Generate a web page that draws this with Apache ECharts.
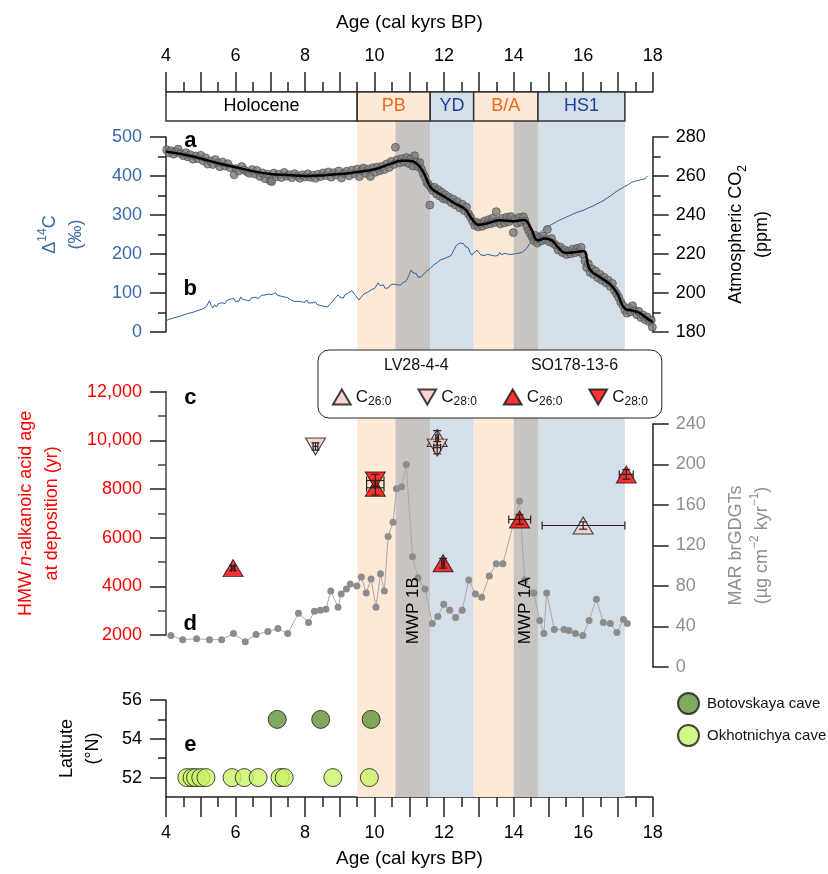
<!DOCTYPE html>
<html><head><meta charset="utf-8">
<script src="https://cdn.jsdelivr.net/npm/echarts@6/dist/echarts.min.js"></script>
<style>html,body{margin:0;padding:0;background:#fff}#c{width:828px;height:874px}</style>
</head><body><div id="c"></div><script>
const FONT = 'Liberation Sans, Arial, Helvetica, sans-serif';

// ---- Age axis ----
const ageMin = 4, ageMax = 18;

// ---- Climate periods (header) and shaded bands ----
const periods = [
  {name:'Holocene', from:4, to:9.5, kind:'hol'},
  {name:'PB', from:9.5, to:11.6, kind:'warm'},
  {name:'YD', from:11.6, to:12.85, kind:'cold'},
  {name:'B/A', from:12.85, to:14.7, kind:'warm'},
  {name:'HS1', from:14.7, to:17.2, kind:'cold'}
];
const bands = [
  {from:9.5, to:10.6, kind:'warm'},
  {from:10.6, to:11.6, kind:'mwp'},
  {from:11.6, to:12.85, kind:'cold'},
  {from:12.85, to:14.0, kind:'warm'},
  {from:14.0, to:14.7, kind:'mwp'},
  {from:14.7, to:17.2, kind:'cold'}
];
const mwpLabels = [{name:'MWP 1B', age:11.1}, {name:'MWP 1A', age:14.35}];

// ---- Panel a: atmospheric CO2 (ppm) ----
const co2Smooth = [[4.0,272.5],[4.5,271],[5.0,269],[5.5,266.5],[6.0,264.5],[6.5,262.5],[7.0,261],[7.5,260.5],[8.0,260],[8.5,260.3],[9.0,261],[9.5,262],[10.0,263.5],[10.5,266.5],[10.8,267.8],[11.0,267.8],[11.2,266.5],[11.4,262],[11.6,254.5],[11.8,251.5],[12.0,249.5],[12.3,246],[12.6,243],[12.8,238],[13.0,235],[13.3,236],[13.6,237.3],[14.0,236.8],[14.3,237.5],[14.5,233],[14.7,227],[14.9,228],[15.1,227],[15.3,223],[15.5,220.5],[15.8,221],[16.0,221.5],[16.2,212],[16.5,208],[16.8,204],[17.0,199],[17.2,192],[17.4,191],[17.6,190],[17.8,187.5],[18.0,185]];
const co2Points = [[4.02,273.5],[4.08,271.8],[4.15,272.9],[4.22,271.2],[4.28,272.6],[4.35,273.8],[4.42,271.5],[4.5,270.4],[4.57,271.9],[4.63,269.8],[4.7,270.9],[4.78,268.6],[4.85,270.2],[4.92,268.9],[5.0,270.6],[5.07,267.8],[5.14,269.3],[5.2,266.1],[5.28,267.7],[5.35,265.9],[5.42,268.4],[5.5,266.7],[5.55,264.8],[5.63,267.2],[5.7,265.1],[5.78,266.3],[5.85,264.2],[5.96,260.6],[6.02,263.8],[6.1,262.6],[6.18,264.9],[6.25,263.1],[6.33,262.2],[6.4,261.4],[6.48,263.3],[6.55,261.0],[6.62,262.8],[6.7,259.8],[6.78,261.6],[6.85,258.6],[6.92,260.9],[7.0,257.5],[7.04,257.1],[7.1,261.5],[7.18,259.6],[7.25,260.9],[7.32,259.2],[7.4,261.8],[7.47,259.9],[7.55,260.7],[7.62,259.1],[7.7,261.2],[7.78,260.0],[7.85,258.9],[7.92,260.6],[8.0,259.5],[8.08,261.1],[8.15,259.3],[8.22,260.4],[8.3,258.8],[8.37,260.9],[8.45,259.7],[8.52,261.6],[8.6,260.2],[8.67,262.1],[8.75,259.4],[8.82,261.7],[8.9,260.5],[8.97,262.6],[9.05,259.0],[9.12,261.4],[9.2,262.5],[9.27,260.1],[9.35,263.0],[9.42,261.2],[9.5,263.6],[9.56,259.7],[9.62,262.8],[9.68,264.1],[9.75,261.3],[9.82,263.5],[9.88,259.8],[9.95,264.2],[10.02,261.9],[10.08,264.6],[10.15,262.7],[10.22,265.0],[10.28,263.3],[10.35,266.2],[10.42,264.4],[10.48,267.5],[10.55,265.9],[10.6,274.7],[10.65,268.3],[10.72,266.7],[10.78,268.9],[10.85,267.2],[10.92,269.5],[10.98,266.4],[11.04,268.8],[11.1,265.1],[11.15,270.4],[11.2,267.3],[11.25,264.8],[11.3,266.9],[11.35,263.5],[11.4,261.2],[11.45,259.4],[11.5,256.8],[11.55,255.6],[11.59,245.1],[11.63,253.9],[11.68,252.5],[11.72,254.2],[11.78,250.8],[11.83,252.9],[11.88,249.6],[11.93,251.7],[11.98,248.3],[12.03,250.4],[12.08,247.9],[12.13,249.2],[12.2,246.4],[12.26,248.1],[12.32,245.2],[12.38,246.9],[12.45,243.7],[12.52,245.5],[12.58,242.3],[12.64,244.1],[12.7,240.6],[12.76,238.9],[12.82,236.8],[12.88,234.6],[12.93,236.3],[12.98,233.9],[13.04,235.7],[13.1,234.2],[13.16,236.9],[13.22,235.1],[13.28,237.6],[13.34,235.5],[13.4,238.4],[13.46,236.2],[13.5,241.7],[13.56,237.1],[13.62,235.4],[13.68,238.3],[13.74,236.0],[13.8,238.9],[13.86,236.5],[13.92,239.2],[13.99,231.0],[14.04,237.9],[14.1,235.8],[14.16,238.7],[14.22,236.4],[14.28,239.1],[14.33,236.9],[14.38,234.2],[14.43,232.1],[14.48,230.4],[14.53,228.8],[14.58,226.9],[14.63,229.5],[14.68,225.6],[14.73,228.2],[14.8,226.7],[14.86,229.1],[14.92,227.4],[14.97,232.6],[15.03,226.2],[15.09,228.0],[15.15,225.3],[15.22,224.4],[15.28,222.1],[15.34,223.6],[15.4,220.8],[15.46,222.2],[15.52,219.7],[15.58,221.4],[15.64,220.1],[15.7,222.5],[15.76,220.6],[15.82,222.9],[15.88,221.2],[15.94,223.4],[15.99,219.9],[16.05,216.5],[16.1,213.1],[16.15,215.0],[16.2,210.6],[16.25,212.4],[16.3,209.5],[16.36,211.3],[16.42,207.8],[16.48,209.6],[16.54,206.5],[16.6,208.1],[16.66,205.2],[16.72,206.6],[16.78,203.4],[16.84,204.9],[16.9,201.3],[16.96,199.6],[17.02,197.8],[17.08,195.4],[17.14,193.7],[17.2,191.2],[17.26,189.6],[17.31,192.4],[17.36,190.3],[17.42,193.5],[17.48,191.0],[17.54,188.9],[17.6,190.6],[17.66,187.4],[17.72,188.8],[17.78,186.3],[17.84,187.7],[17.9,185.2],[17.96,186.1],[17.99,182.5]];

// ---- Panel b: Δ14C (‰) ----
const d14c = [[4.0,26],[4.05,32],[4.1,28],[4.15,34],[4.2,30],[4.25,37],[4.3,33],[4.35,39],[4.4,36],[4.45,42],[4.5,38],[4.55,45],[4.6,41],[4.65,48],[4.7,44],[4.75,50],[4.8,46],[4.85,53],[4.9,49],[4.95,56],[5.0,52],[5.05,59],[5.1,55],[5.15,64],[5.2,60],[5.25,80],[5.3,68],[5.35,62],[5.4,70],[5.45,64],[5.5,72],[5.55,68],[5.6,75],[5.65,70],[5.7,73],[5.75,81],[5.8,76],[5.85,84],[5.9,79],[5.95,86],[6.0,78],[6.05,83],[6.1,80],[6.15,90],[6.2,84],[6.25,88],[6.3,82],[6.35,86],[6.4,80],[6.45,87],[6.5,83],[6.55,89],[6.6,85],[6.65,86],[6.7,88],[6.75,94],[6.8,89],[6.85,95],[6.9,91],[6.95,97],[7.0,92],[7.05,96],[7.1,99],[7.15,101],[7.2,94],[7.25,98],[7.3,92],[7.35,97],[7.4,90],[7.45,95],[7.5,88],[7.55,86],[7.6,82],[7.65,85],[7.7,78],[7.75,83],[7.8,79],[7.85,84],[7.9,77],[7.95,80],[8.0,76],[8.05,82],[8.1,74],[8.15,79],[8.2,75],[8.25,73],[8.3,77],[8.35,70],[8.4,73],[8.45,68],[8.5,72],[8.55,66],[8.6,68],[8.65,64],[8.7,70],[8.75,75],[8.8,79],[8.85,86],[8.9,82],[8.95,95],[9.0,89],[9.05,93],[9.1,87],[9.15,96],[9.2,92],[9.25,100],[9.3,97],[9.35,106],[9.4,100],[9.45,94],[9.5,90],[9.55,82],[9.6,88],[9.65,93],[9.7,98],[9.75,95],[9.8,102],[9.85,100],[9.9,108],[9.95,104],[10.0,112],[10.05,118],[10.1,126],[10.15,119],[10.2,114],[10.25,121],[10.3,112],[10.35,117],[10.4,113],[10.45,120],[10.5,116],[10.55,123],[10.6,119],[10.65,121],[10.7,124],[10.75,120],[10.8,126],[10.85,123],[10.9,130],[10.95,138],[11.0,148],[11.05,159],[11.1,152],[11.15,147],[11.2,150],[11.25,140],[11.3,138],[11.35,142],[11.4,148],[11.45,152],[11.5,156],[11.55,160],[11.6,163],[11.65,168],[11.7,172],[11.75,176],[11.8,178],[11.85,182],[11.9,185],[11.95,186],[12.0,188],[12.05,190],[12.1,192],[12.15,194],[12.2,196],[12.25,205],[12.3,213],[12.35,222],[12.4,217],[12.45,228],[12.5,224],[12.55,227],[12.6,220],[12.65,223],[12.7,215],[12.75,203],[12.8,197],[12.85,203],[12.9,207],[12.95,210],[13.0,204],[13.05,198],[13.1,202],[13.15,196],[13.2,201],[13.25,199],[13.3,203],[13.35,197],[13.4,200],[13.45,195],[13.5,199],[13.55,196],[13.6,204],[13.65,198],[13.7,194],[13.75,202],[13.8,197],[13.85,199],[13.9,196],[13.95,199],[14.0,200],[14.05,201],[14.1,201],[14.15,202],[14.2,203],[14.25,205],[14.3,207],[14.35,212],[14.4,218],[14.45,225],[14.5,231],[14.55,238],[14.6,244],[14.65,248],[14.7,251],[14.75,256],[14.8,258],[14.9,264],[15.0,271],[15.1,276],[15.2,281],[15.3,286],[15.4,290],[15.5,294],[15.6,298],[15.7,302],[15.8,306],[15.9,309],[16.0,312],[16.1,316],[16.2,320],[16.3,324],[16.4,329],[16.5,333],[16.6,338],[16.7,344],[16.8,350],[16.9,357],[17.0,363],[17.1,368],[17.2,373],[17.3,378],[17.4,384],[17.5,387],[17.6,389],[17.7,391],[17.78,393],[17.85,400]];

// ---- Panel c: HMW n-alkanoic acid age at deposition (yr) ----
// [age, value]
const lvC26 = [[16.0,6500],[11.8,10100]];
const lvC28 = [[8.3,9750],[11.8,9700]];
const soC26 = [[5.93,4750],[10.02,8050],[11.97,4950],[14.17,6750],[17.24,8600]];
const soC28 = [[10.02,8350]];
// error bars: [age, value, ageLow, ageHigh, valueLow, valueHigh]
const cErrors = [
  [16.0,6500,14.82,17.2,6350,6650],
  [11.8,10100,11.76,11.84,9800,10400],
  [8.3,9750,8.23,8.37,9600,9900],
  [11.8,9700,11.7,11.9,9450,9950],
  [5.93,4750,5.88,5.98,4650,4850],
  [10.02,8050,9.77,10.27,7750,8350],
  [11.97,4950,11.93,12.01,4750,5150],
  [14.17,6750,13.86,14.49,6550,6950],
  [17.24,8600,17.04,17.44,8400,8800],
  [10.02,8350,9.77,10.27,8100,8600]
];

// ---- Panel d: MAR brGDGTs (µg cm-2 kyr-1) ----
const marGdgt = [[4.14,31],[4.48,27],[4.88,28],[5.25,27],[5.6,27],[5.94,33],[6.28,25],[6.59,32],[6.93,35],[7.22,38],[7.5,33],[7.81,53],[8.1,44],[8.27,55],[8.44,56],[8.6,57],[8.74,75],[8.95,59],[9.04,72],[9.19,77],[9.3,82],[9.49,80],[9.62,89],[9.76,73],[9.9,87],[10.04,59],[10.17,92],[10.28,75],[10.39,129],[10.53,143],[10.63,176],[10.78,178],[10.91,200],[11.09,109],[11.25,88],[11.45,77],[11.66,43],[11.82,50],[11.99,62],[12.16,56],[12.33,49],[12.52,56],[12.71,86],[12.9,72],[13.08,69],[13.3,90],[13.5,102],[13.69,102],[14.17,164],[14.32,86],[14.58,73],[14.75,46],[14.87,33],[14.95,73],[15.17,37],[15.45,37],[15.59,36],[15.78,33],[15.99,31],[16.17,46],[16.38,67],[16.58,44],[16.78,43],[16.97,34],[17.16,47],[17.27,43]];

// ---- Panel e: speleothem latitudes (°N) ----
const botovskaya = [[7.2,55],[8.45,55],[9.9,55]];
const okhotnichya = [[4.6,52],[4.75,52],[4.85,52],[5.0,52],[5.15,52],[5.9,52],[6.25,52],[6.65,52],[7.28,52],[7.4,52],[8.8,52],[9.85,52]];

// ---- tick labels ----
const ageTicks = [4,6,8,10,12,14,16,18];
const latTicks = [52,54,56];
const latMinorTicks = [53,55];

// ---------- styles ----------
const C_WARM = '#fde9d5', C_COLD = '#d5dfea', C_MWP = '#c9c4bf';
const bandColor = k => k==='warm'?C_WARM:(k==='cold'?C_COLD:(k==='mwp'?C_MWP:'#ffffff'));
const periodText = k => k==='warm'?'#f26a1f':(k==='cold'?'#1c3f98':'#000');
const BLUE = '#3a6aa6', RED = '#ff0000', GREY = '#8e8e8e', AX = '#222';

const L = 166, RGT = 828 - 652.7;
const grids = [
  {left:L, right:RGT, top:121, height:676},   // 0 bands
  {left:L, right:RGT, top:92, height:29},     // 1 header
  {left:L, right:RGT, top:137, height:195},   // 2 panels a,b
  {left:L, right:RGT, top:391.7, height:243.3}, // 3 panel c
  {left:L, right:RGT, top:424, height:243},   // 4 panel d
  {left:L, right:RGT, top:700, height:97}     // 5 panel e
];

function hiddenX(g){return {gridIndex:g,type:'value',min:ageMin,max:ageMax,show:false};}
const ageLabelFmt = v => ageTicks.indexOf(v) >= 0 ? String(v) : '';
function ageAxis(g, pos){
  return {gridIndex:g,type:'value',position:pos,min:ageMin,max:ageMax,interval:1,
    axisLine:{show:true,onZero:false,lineStyle:{color:AX,width:1.5}},
    axisTick:{show:true,length:20,lineStyle:{color:AX,width:1.5}},
    minorTick:{show:true,splitNumber:2,length:10,lineStyle:{color:AX,width:1.5}},
    splitLine:{show:false},minorSplitLine:{show:false},
    axisLabel:{fontSize:18,color:'#000',fontFamily:FONT,margin:27,formatter:ageLabelFmt},
    name:'Age (cal kyrs BP)',nameLocation:'middle',nameGap:pos==='top'?60:52,
    nameTextStyle:{fontSize:19,color:'#000',fontFamily:FONT}};
}
function yAx(o){
  const col = o.color || '#000';
  const base = {type:'value',
    axisLine:{show:true,onZero:false,lineStyle:{color:AX,width:1.5}},
    axisTick:{show:true,length:16,lineStyle:{color:AX,width:1.5}},
    splitLine:{show:false},
    axisLabel:{fontSize:18,color:col,fontFamily:FONT,margin:o.margin||24},
    nameLocation:'middle',nameRotate:90,
    nameTextStyle:{fontSize:18,color:col,fontFamily:FONT,lineHeight:26,align:'center',
      rich:{
        sup:{fontSize:12,color:col,fontFamily:FONT,verticalAlign:'top',lineHeight:12},
        sub:{fontSize:12,color:col,fontFamily:FONT,verticalAlign:'bottom',lineHeight:12},
        i:{fontSize:18,color:col,fontFamily:FONT,fontStyle:'italic'}
      }}
  };
  return Object.assign(base, o.extra);
}

const yAxes = [
  {gridIndex:0,type:'value',min:0,max:1,show:false},
  {gridIndex:1,type:'value',min:0,max:1,show:false},
  yAx({color:BLUE, extra:{gridIndex:2,position:'left',min:0,max:500,interval:100,
    minorTick:{show:true,splitNumber:2,length:8,lineStyle:{color:AX,width:1.5}},
    name:'Δ{sup|14}C\n(‰)',nameGap:77}}),
  yAx({color:'#000', margin:23, extra:{gridIndex:2,position:'right',min:180,max:280,interval:20,
    minorTick:{show:true,splitNumber:2,length:8,lineStyle:{color:AX,width:1.5}},
    name:'Atmospheric CO{sub|2}\n(ppm)',nameGap:70}}),
  yAx({color:RED, extra:{gridIndex:3,position:'left',min:2000,max:12000,interval:2000,
    axisLine:{show:true,onZero:false,lineStyle:{color:'#444',width:1.5}},
    minorTick:{show:true,splitNumber:2,length:8,lineStyle:{color:'#444',width:1.5}},
    axisLabel:{fontSize:18,color:RED,fontFamily:FONT,margin:24,
      formatter:v=> v>=10000 ? (Math.floor(v/1000)+','+String(v%1000).padStart(3,'0')) : String(v)},
    name:'HMW {i|n}-alkanoic acid age\nat deposition (yr)',nameGap:101}}),
  yAx({color:GREY, margin:23, extra:{gridIndex:4,position:'right',min:0,max:240,interval:40,
    name:'MAR brGDGTs\n(µg cm{sup|−2} kyr{sup|−1})',nameGap:70}}),
  yAx({color:'#000', extra:{gridIndex:5,position:'left',min:51,max:56,
    axisTick:{show:true,length:16,customValues:latTicks,lineStyle:{color:AX,width:1.5}},
    axisLabel:{fontSize:18,color:'#000',fontFamily:FONT,margin:24,customValues:latTicks},
    name:'Latitute\n(°N)',nameGap:60}}),
  {gridIndex:5,type:'value',position:'left',min:51,max:56,
    axisLine:{show:false},splitLine:{show:false},axisLabel:{show:false},
    axisTick:{show:true,length:8,customValues:latMinorTicks,lineStyle:{color:AX,width:1.5}}}
];

const xAxes = [hiddenX(0), ageAxis(1,'top'), hiddenX(2), hiddenX(3), hiddenX(4), ageAxis(5,'bottom')];

function errRender(params, api){
  const x=api.value(0), y=api.value(1), xl=api.value(2), xh=api.value(3), yl=api.value(4), yh=api.value(5);
  const c=api.coord([x,y]), l=api.coord([xl,y]), r=api.coord([xh,y]), b=api.coord([x,yl]), t=api.coord([x,yh]);
  const cap=4, st={stroke:'#222',lineWidth:1.2};
  return {type:'group',children:[
    {type:'line',shape:{x1:l[0],y1:c[1],x2:r[0],y2:c[1]},style:st},
    {type:'line',shape:{x1:l[0],y1:c[1]-cap,x2:l[0],y2:c[1]+cap},style:st},
    {type:'line',shape:{x1:r[0],y1:c[1]-cap,x2:r[0],y2:c[1]+cap},style:st},
    {type:'line',shape:{x1:c[0],y1:b[1],x2:c[0],y2:t[1]},style:st},
    {type:'line',shape:{x1:c[0]-cap,y1:b[1],x2:c[0]+cap,y2:b[1]},style:st},
    {type:'line',shape:{x1:c[0]-cap,y1:t[1],x2:c[0]+cap,y2:t[1]},style:st}
  ]};
}

const PINK = '#f8c9c6';
function triSeries(name, data, color, down){
  return {type:'scatter',name,xAxisIndex:3,yAxisIndex:4,data,symbol:'triangle',
    symbolSize:[20,17],symbolRotate:down?180:0,z:6,
    itemStyle:{color,borderColor:'#111',borderWidth:1}};
}
const legendNames = {LV26:'C{s|26:0}',LV28:'C{s|28:0}',SO26:'C{s|26:0}',SO28:'C{s|28:0}'};
const UP = 'path://M10,0L20,17L0,17Z', DOWN = 'path://M0,0L20,0L10,17Z';

const series = [
  {type:'line',xAxisIndex:0,yAxisIndex:0,data:[],silent:true,z:1,
    markArea:{silent:true,data:bands.map(b=>[{xAxis:b.from,itemStyle:{color:bandColor(b.kind)}},{xAxis:b.to}])}},
  {type:'line',xAxisIndex:1,yAxisIndex:1,data:[],silent:true,z:2,
    markArea:{silent:true,itemStyle:{borderColor:'#333',borderWidth:1.5},
      label:{show:true,position:'inside',fontSize:18,fontFamily:FONT},
      data:periods.map(p=>[{xAxis:p.from,name:p.name,itemStyle:{color:bandColor(p.kind),borderColor:'#333',borderWidth:1.5},
        label:{color:periodText(p.kind)}},{xAxis:p.to}])}},
  {type:'line',name:'d14c',xAxisIndex:2,yAxisIndex:2,data:d14c,symbol:'none',z:3,
    lineStyle:{color:'#2c5f9f',width:1}},
  {type:'scatter',name:'co2pts',xAxisIndex:2,yAxisIndex:3,data:co2Points,symbolSize:8,z:4,
    itemStyle:{color:'#7b7b7b',borderColor:'#4a4a4a',borderWidth:0.8}},
  {type:'line',name:'co2smooth',xAxisIndex:2,yAxisIndex:3,data:co2Smooth,smooth:0.5,symbol:'none',z:5,
    lineStyle:{color:'#000',width:2.5}},
  {type:'line',name:'mar',xAxisIndex:4,yAxisIndex:5,data:marGdgt,symbol:'circle',symbolSize:7,showAllSymbol:true,z:4,
    lineStyle:{color:'#a8a8a8',width:1},itemStyle:{color:'#8c8c8c',borderWidth:0}},
  triSeries('LV26', lvC26, PINK, false),
  triSeries('LV28', lvC28, PINK, true),
  triSeries('SO26', soC26, RED, false),
  triSeries('SO28', soC28, RED, true),
  {type:'custom',name:'err',xAxisIndex:3,yAxisIndex:4,data:cErrors,renderItem:errRender,z:7,
    encode:{x:0,y:1},silent:true},
  {type:'scatter',name:'Botovskaya cave',xAxisIndex:5,yAxisIndex:6,data:botovskaya,symbolSize:18,z:6,
    itemStyle:{color:'#5f9437',borderColor:'#1a1a1a',borderWidth:1}},
  {type:'scatter',name:'Okhotnichya cave',xAxisIndex:5,yAxisIndex:6,data:okhotnichya,symbolSize:18,z:6,
    itemStyle:{color:'#cbf367',borderColor:'#1a1a1a',borderWidth:1}}
];

const chart = echarts.init(document.getElementById('c'), null, {renderer:'canvas'});
chart.setOption({
  animation:false,
  backgroundColor:'#fff',
  textStyle:{fontFamily:FONT},
  grid:grids, xAxis:xAxes, yAxis:yAxes, series,
  legend:[
    {data:[{name:'LV26',icon:UP},{name:'LV28',icon:DOWN},{name:'SO26',icon:UP},{name:'SO28',icon:DOWN}],
      left:318,top:350,orient:'horizontal',
      padding:[36,14,10,14],itemGap:26,itemWidth:18,itemHeight:15,
      backgroundColor:'#fff',borderColor:'#222',borderWidth:1,borderRadius:11,z:20,
      selectedMode:false,
      formatter:n=>legendNames[n],
      textStyle:{fontSize:17,color:'#111',fontFamily:FONT,lineHeight:22,
        rich:{s:{fontSize:12,color:'#111',fontFamily:FONT,verticalAlign:'bottom',lineHeight:12}}}},
    {data:['Botovskaya cave','Okhotnichya cave'],left:672,top:687,orient:'vertical',
      itemGap:9,itemWidth:21,itemHeight:21,selectedMode:false,
      textStyle:{fontSize:15,color:'#111',fontFamily:FONT,padding:[0,0,0,3]}}
  ]
});

// annotations positioned through the chart's own scales
const txt = (x,y,t,o)=>Object.assign({type:'text',x,y,z:100,
  style:{text:t,fontFamily:FONT,fontSize:22,fontWeight:'bold',fill:'#000',align:'center',verticalAlign:'middle'}},o||{});
const g = [];
const pA = chart.convertToPixel({gridIndex:2},[4.7,490]);
g.push(txt(pA[0],pA[1],'a'));
const pB = chart.convertToPixel({gridIndex:2},[4.7,110]);
g.push(txt(pB[0],pB[1],'b'));
const pC = chart.convertToPixel({gridIndex:3},[4.7,11750]);
g.push(txt(pC[0],pC[1],'c'));
const pD = chart.convertToPixel({gridIndex:3},[4.7,2450]);
g.push(txt(pD[0],pD[1],'d'));
const pE = chart.convertToPixel({gridIndex:5},[4.7,53.7]);
g.push(txt(pE[0],pE[1],'e'));
mwpLabels.forEach(m=>{
  const p = chart.convertToPixel({gridIndex:3},[m.age,3000]);
  g.push({type:'text',x:p[0],y:p[1],rotation:Math.PI/2,z:100,
    style:{text:m.name,fontFamily:FONT,fontSize:17,fill:'#000',align:'center',verticalAlign:'middle'}});
});
// legend group headers
const h1 = chart.convertToPixel({gridIndex:3},[11.2,12000]);
const h2 = chart.convertToPixel({gridIndex:3},[15.75,12000]);
g.push({type:'text',x:h1[0],y:366,z:100,style:{text:'LV28-4-4',fontFamily:FONT,fontSize:16,fill:'#111',align:'center',verticalAlign:'middle'}});
g.push({type:'text',x:h2[0],y:366,z:100,style:{text:'SO178-13-6',fontFamily:FONT,fontSize:16,fill:'#111',align:'center',verticalAlign:'middle'}});
chart.setOption({graphic:g});
</script></body></html>
